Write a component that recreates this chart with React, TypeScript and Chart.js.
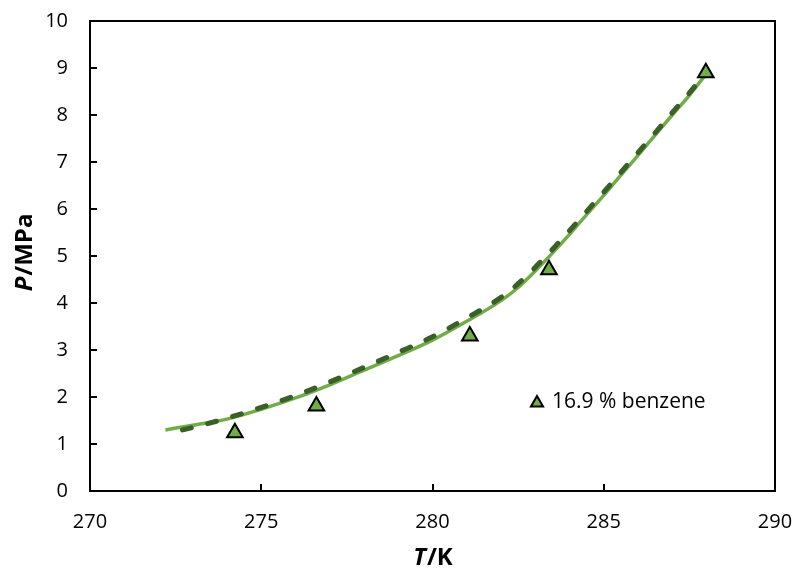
import React, { useEffect, useRef } from "react";
import { Chart, registerables } from "chart.js";

Chart.register(...registerables);

// Experimental points (16.9 % benzene)
const obsT = [274.23, 276.61, 281.09, 283.4, 287.98];
const obsP = [1.24, 1.81, 3.3, 4.71, 8.9];

// Model curve 1 (solid)
const solidT = [272.2, 273, 274, 275, 276, 277, 278, 279, 280, 281, 282, 282.5, 283, 283.5, 284, 284.5, 285, 285.5, 286, 286.5, 287, 287.5, 288];
const solidP = [1.3, 1.4, 1.53, 1.74, 1.98, 2.26, 2.57, 2.88, 3.21, 3.61, 4.05, 4.33, 4.68, 5.06, 5.46, 5.88, 6.29, 6.72, 7.14, 7.57, 8.0, 8.42, 8.88];

// Model curve 2 (dashed)
const dashT = [272.7, 273, 274, 275, 276, 277, 278, 279, 280, 281, 282, 282.5, 283, 283.5, 284, 284.5, 285, 285.5, 286, 286.5, 287, 287.5, 288];
const dashP = [1.3, 1.35, 1.55, 1.78, 2.03, 2.32, 2.63, 2.95, 3.28, 3.68, 4.12, 4.41, 4.76, 5.14, 5.54, 5.95, 6.36, 6.78, 7.2, 7.62, 8.05, 8.47, 8.92];

const legendLabel = "16.9 % benzene";
const xTitleItalic = "T";
const xTitleRest = "/K";
const yTitleItalic = "P";
const yTitleRest = "/MPa";

const FONT = "'Open Sans', 'DejaVu Sans', sans-serif";
const LIGHT = "#70AD47";
const DARK = "#3A5F28";

const zip = (xs: number[], ys: number[]) => xs.map((x, i) => ({ x, y: ys[i] }));

function drawTriangle(ctx: CanvasRenderingContext2D, x: number, y: number, r: number) {
  const s = Math.sin(Math.PI / 3) * r;
  ctx.beginPath();
  ctx.moveTo(x, y - r);
  ctx.lineTo(x + s, y + r / 2);
  ctx.lineTo(x - s, y + r / 2);
  ctx.closePath();
  ctx.fillStyle = LIGHT;
  ctx.fill();
  ctx.lineWidth = 2;
  ctx.strokeStyle = "#000";
  ctx.stroke();
}

const framePlugin = {
  id: "frame",
  beforeDatasetsDraw(chart: any) {
    const { ctx, chartArea } = chart;
    const { left, right, top, bottom } = chartArea;
    ctx.save();
    ctx.strokeStyle = "#000";
    ctx.lineWidth = 2;
    ctx.strokeRect(left, top, right - left, bottom - top);
    const xs = chart.scales.x;
    const ys = chart.scales.y;
    ctx.beginPath();
    xs.ticks.forEach((t: any) => {
      const px = Math.round(xs.getPixelForValue(t.value));
      ctx.moveTo(px, bottom);
      ctx.lineTo(px, bottom - 7);
    });
    ys.ticks.forEach((t: any) => {
      const py = Math.round(ys.getPixelForValue(t.value));
      ctx.moveTo(left, py);
      ctx.lineTo(left + 7, py);
    });
    ctx.stroke();
    ctx.restore();
  },
  afterDraw(chart: any) {
    const { ctx, chartArea } = chart;
    ctx.save();
    // axis titles with mixed italic
    const bi = `italic bold 24px ${FONT}`;
    const b = `bold 24px ${FONT}`;
    const drawMixed = (cx: number, cy: number, it: string, rest: string) => {
      ctx.font = bi;
      const w1 = ctx.measureText(it).width;
      ctx.font = b;
      const w2 = ctx.measureText(rest).width;
      const start = cx - (w1 + w2) / 2;
      ctx.fillStyle = "#000";
      ctx.textBaseline = "middle";
      ctx.textAlign = "left";
      ctx.font = bi;
      ctx.fillText(it, start, cy);
      ctx.font = b;
      ctx.fillText(rest, start + w1 + 1, cy);
    };
    const cx = (chartArea.left + chartArea.right) / 2;
    drawMixed(cx, 558, xTitleItalic, xTitleRest);
    ctx.save();
    ctx.translate(25, (chartArea.top + chartArea.bottom) / 2 - 3);
    ctx.rotate(-Math.PI / 2);
    drawMixed(0, 0, yTitleItalic, yTitleRest);
    ctx.restore();

    // legend
    drawTriangle(ctx, 537, 403, 7);
    ctx.font = `21px ${FONT}`;
    ctx.fillStyle = "#000";
    ctx.textAlign = "left";
    ctx.textBaseline = "middle";
    ctx.fillText(legendLabel, 552, 402);
    ctx.restore();
  },
};

export default function App() {
  const ref = useRef<HTMLCanvasElement | null>(null);
  useEffect(() => {
    if (!ref.current) return;
    const chart = new Chart(ref.current, {
      type: "scatter",
      data: {
        datasets: [
          {
            label: legendLabel,
            data: zip(obsT, obsP),
            pointStyle: "triangle",
            pointRadius: 9,
            pointHoverRadius: 9,
            pointBackgroundColor: LIGHT,
            pointBorderColor: "#000",
            pointBorderWidth: 2,
            showLine: false,
            order: 0,
          },
          {
            label: "dashed",
            data: zip(dashT, dashP),
            showLine: true,
            borderColor: DARK,
            borderWidth: 5,
            borderDash: [9, 17],
            borderCapStyle: "round",
            pointRadius: 0,
            cubicInterpolationMode: "monotone",
            order: 1,
          },
          {
            label: "solid",
            data: zip(solidT, solidP),
            showLine: true,
            borderColor: LIGHT,
            borderWidth: 3.5,
            pointRadius: 0,
            cubicInterpolationMode: "monotone",
            order: 2,
          },
        ] as any,
      },
      options: {
        animation: false,
        responsive: false,
        devicePixelRatio: 1,
        layout: { padding: { left: 0, right: 21, top: 21, bottom: 0 } },
        plugins: { legend: { display: false }, tooltip: { enabled: false } },
        scales: {
          x: {
            type: "linear",
            min: 270,
            max: 290,
            ticks: { stepSize: 5, color: "#000", font: { family: FONT, size: 20 }, padding: 19, maxRotation: 0 },
            grid: { display: false, drawTicks: false, tickLength: 0 },
            border: { display: false },
            afterFit: (s: any) => {
              s.height = 78;
              s.paddingLeft = 0;
              s.paddingRight = 0;
            },
          },
          y: {
            type: "linear",
            min: 0,
            max: 10,
            ticks: { stepSize: 1, color: "#000", font: { family: FONT, size: 20 }, padding: 22 },
            grid: { display: false, drawTicks: false, tickLength: 0 },
            border: { display: false },
            afterFit: (s: any) => {
              s.width = 90;
              s.paddingTop = 0;
              s.paddingBottom = 0;
            },
          },
        },
      } as any,
      plugins: [framePlugin],
    });
    return () => chart.destroy();
  }, []);
  return (
    <div style={{ position: "absolute", left: 0, top: 0, width: 796, height: 569, background: "#fff" }}>
      <canvas ref={ref} width={796} height={569} style={{ width: 796, height: 569, display: "block" }} />
    </div>
  );
}
